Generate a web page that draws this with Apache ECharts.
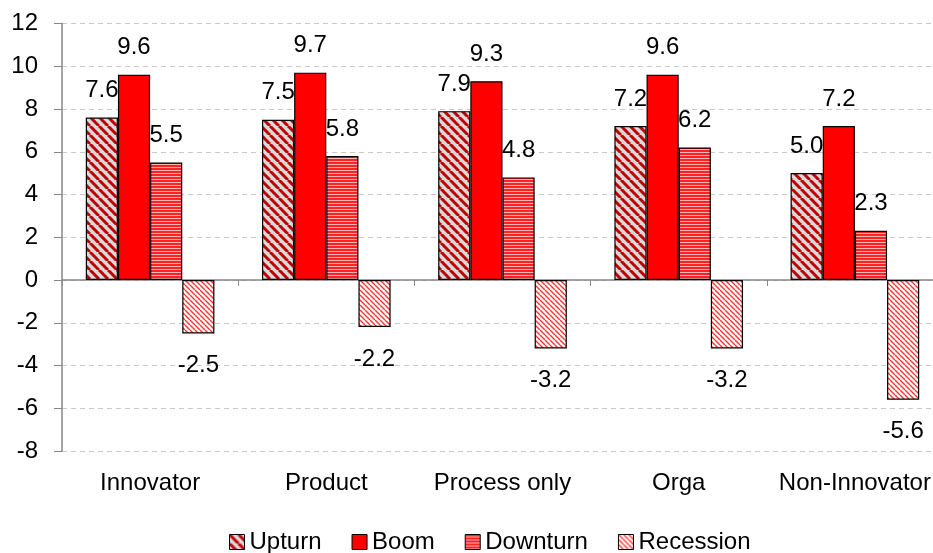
<!DOCTYPE html>
<html><head><meta charset="utf-8">
<script src="https://cdn.jsdelivr.net/npm/echarts@6/dist/echarts.min.js"></script>
<style>html,body{margin:0;padding:0;background:#fff;overflow:hidden}#c{width:943px;height:553px}</style>
</head><body><div id="c"></div>
<script>
const categories = ['Innovator', 'Product', 'Process only', 'Orga', 'Non-Innovator'];
const seriesNames = ['Upturn', 'Boom', 'Downturn', 'Recession'];
const upturn = [7.6, 7.5, 7.9, 7.2, 5.0];
const boom = [9.6, 9.7, 9.3, 9.6, 7.2];
const downturn = [5.5, 5.8, 4.8, 6.2, 2.3];
const recession = [-2.5, -2.2, -3.2, -3.2, -5.6];
const yTicks = [-8, -6, -4, -2, 0, 2, 4, 6, 8, 10, 12];

function diagPattern(size, bg, fg, lw) {
  const c = document.createElement('canvas');
  c.width = size; c.height = size;
  const g = c.getContext('2d');
  g.fillStyle = bg; g.fillRect(0, 0, size, size);
  g.strokeStyle = fg; g.lineWidth = lw;
  for (let k = -1; k <= 1; k++) {
    g.beginPath();
    g.moveTo(k * size, 0);
    g.lineTo(k * size + size, size);
    g.stroke();
  }
  return { image: c, repeat: 'repeat' };
}
function horizPattern() {
  const c = document.createElement('canvas');
  c.width = 4; c.height = 3;
  const g = c.getContext('2d');
  g.fillStyle = '#ffb3b3'; g.fillRect(0, 0, 4, 3);
  g.fillStyle = '#f22'; g.fillRect(0, 0, 4, 2);
  return { image: c, repeat: 'repeat' };
}
const fills = [
  diagPattern(9, '#d9d9d9', '#c00000', 3),
  '#ff0000',
  horizPattern(),
  diagPattern(5, '#ffffff', '#ff3333', 1.4)
];
const dataSets = [upturn, boom, downturn, recession];
const font = "'Liberation Sans', Arial, sans-serif";
const fs = 24;

const chart = echarts.init(document.getElementById('c'), null, { renderer: 'canvas' });
chart.setOption({
  animation: false,
  backgroundColor: '#fff',
  textStyle: { fontFamily: font },
  grid: { left: 62, top: 23.5, width: 881, height: 427.5, containLabel: false },
  legend: {
    top: 525, left: 224,
    itemWidth: 15, itemHeight: 15, itemGap: 30,
    icon: 'rect',
    textStyle: { fontSize: fs, color: '#000', fontFamily: font, padding: [0, 0, 0, 0] },
    data: seriesNames.map(n => ({ name: n, itemStyle: { borderColor: '#000', borderWidth: 1 } }))
  },
  xAxis: [{
    type: 'category', data: categories, position: 'bottom',
    axisLine: { onZero: true, lineStyle: { color: '#868686', width: 1.5 } },
    axisTick: { show: true, length: 6, inside: false, alignWithLabel: false, lineStyle: { color: '#868686' } },
    axisLabel: { show: false }, splitLine: { show: false }
  }, {
    type: 'category', data: categories, position: 'bottom',
    axisLine: { show: false, onZero: false }, axisTick: { show: false },
    axisLabel: { show: true, fontSize: fs, color: '#000', margin: 20, fontFamily: font, interval: 0 }
  }],
  yAxis: {
    type: 'value', min: yTicks[0], max: yTicks[yTicks.length - 1], interval: 2,
    axisLine: { show: true, lineStyle: { color: '#868686', width: 1.5 } },
    axisTick: { show: true, length: 8, lineStyle: { color: '#868686' } },
    axisLabel: { fontSize: fs, color: '#000', margin: 24, fontFamily: font },
    splitLine: { show: true, lineStyle: { color: '#c8c8c8', type: [5, 4], width: 1 } }
  },
  series: seriesNames.map((n, i) => ({
    name: n, type: 'bar', xAxisIndex: 0,
    data: dataSets[i].map(v => v < 0 ? { value: v, label: { position: 'bottom', distance: 20 } } : v),
    barGap: '0%', barCategoryGap: '27%',
    itemStyle: { color: fills[i], borderColor: '#000', borderWidth: 1.2 },
    label: {
      show: true, fontSize: fs, color: '#000', fontFamily: font,
      position: 'top', distance: 15,
      formatter: p => p.value.toFixed(1)
    }
  }))
});
</script></body></html>
